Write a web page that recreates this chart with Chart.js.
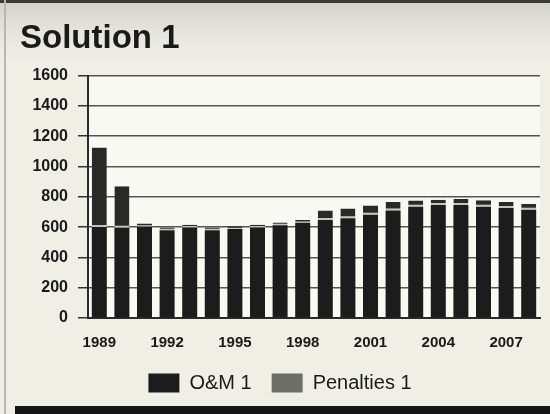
<!DOCTYPE html>
<html>
<head>
<meta charset="utf-8">
<script src="https://cdn.jsdelivr.net/npm/chart.js@4"></script>
<style>
  html, body { margin: 0; padding: 0; background: #efefe6; }
  #wrap { width: 550px; height: 414px; }
</style>
</head>
<body>
<div id="wrap"><canvas id="myChart" width="550" height="414"></canvas></div>
<script>
const years = ['1989', '1990', '1991', '1992', '1993', '1994', '1995', '1996', '1997', '1998',
               '1999', '2000', '2001', '2002', '2003', '2004', '2005', '2006', '2007', '2008'];
const omValues = [600, 596, 603, 580, 598, 580, 587, 598, 612, 628,
                  647, 658, 682, 709, 735, 746, 746, 735, 726, 715];
const penaltyValues = [526, 274, 20, 18, 18, 18, 18, 18, 19, 19,
                       62, 64, 60, 57, 40, 34, 40, 43, 40, 38];
const yTicks = [0, 200, 400, 600, 800, 1000, 1200, 1400, 1600];

// paper background, plot area and the dark strips of the scan
const paper = {
  id: 'paper',
  beforeDraw(chart) {
    const { ctx, chartArea: a } = chart;
    ctx.save();
    ctx.fillStyle = '#efefe6';
    ctx.fillRect(0, 0, chart.width, chart.height);
    const g = ctx.createLinearGradient(0, 0, 0, 75);
    g.addColorStop(0, '#d0d0c8');
    g.addColorStop(1, 'rgba(239,239,230,0)');
    ctx.fillStyle = g;
    ctx.fillRect(0, 0, chart.width, 75);
    ctx.fillStyle = '#3a3a36';
    ctx.fillRect(0, 0, chart.width, 3);
    ctx.fillStyle = '#b8b8b0';
    ctx.fillRect(4, 0, 2, chart.height);
    ctx.fillStyle = '#f9f9f4';
    ctx.fillRect(a.left, a.top, a.right - a.left, a.bottom - a.top);
    ctx.fillStyle = '#161616';
    ctx.fillRect(15, 406, chart.width - 15, 8);
    ctx.restore();
  }
};

const ctx = document.getElementById('myChart').getContext('2d');

const chart = new Chart(ctx, {
  type: 'bar',
  data: {
    labels: years,
    datasets: [
      {
        label: 'O&M 1',
        data: omValues,
        backgroundColor: '#1c1c1c',
        barPercentage: 0.8,
        categoryPercentage: 0.83
      },
      {
        label: 'Penalties 1',
        data: penaltyValues,
        backgroundColor: '#292928',
        borderColor: '#c4c4bc',
        borderWidth: { bottom: 2 },
        borderSkipped: false,
        barPercentage: 0.8,
        categoryPercentage: 0.83
      }
    ]
  },
  options: {
    responsive: false,
    animation: false,
    layout: { padding: { left: 20, right: 10, top: 0, bottom: 11 } },
    plugins: {
      title: {
        display: true,
        text: 'Solution 1',
        align: 'start',
        color: '#1a1a1a',
        font: { family: 'Liberation Sans', size: 33, weight: 'bold' },
        padding: { top: 19, bottom: 17 }
      },
      legend: {
        position: 'bottom',
        labels: {
          color: '#1a1a1a',
          font: { family: 'Liberation Sans', size: 20 },
          boxWidth: 31,
          boxHeight: 19,
          padding: 20,
          generateLabels(chart) {
            const items = Chart.defaults.plugins.legend.labels.generateLabels(chart);
            items.forEach(item => {
              item.lineWidth = 0;
              item.fillStyle = item.datasetIndex === 1 ? '#6e6e68' : '#1c1c1c';
            });
            return items;
          }
        }
      },
      tooltip: { enabled: false }
    },
    scales: {
      x: {
        stacked: true,
        grid: { display: false },
        border: { display: true, color: '#2a2a2a', width: 2 },
        ticks: {
          autoSkip: false,
          maxRotation: 0,
          color: '#1a1a1a',
          font: { family: 'Liberation Sans', size: 15, weight: 'bold' },
          padding: 8,
          callback: (v, i) => (i % 3 === 0 ? years[i] : '')
        },
        afterFit: s => { s.height = 35; }
      },
      y: {
        stacked: true,
        min: 0,
        max: 1600,
        z: 1,
        afterBuildTicks: s => { s.ticks = yTicks.map(v => ({ value: v })); },
        grid: { color: '#555552', lineWidth: 1.5, tickLength: 10, tickColor: '#333' },
        border: { display: true, color: '#2a2a2a', width: 2 },
        ticks: {
          color: '#1a1a1a',
          font: { family: 'Liberation Sans', size: 16, weight: 'bold' },
          padding: 10,
          callback: v => String(v)
        },
        afterFit: s => { s.width = 68; }
      }
    }
  },
  plugins: [paper]
});
</script>
</body>
</html>
